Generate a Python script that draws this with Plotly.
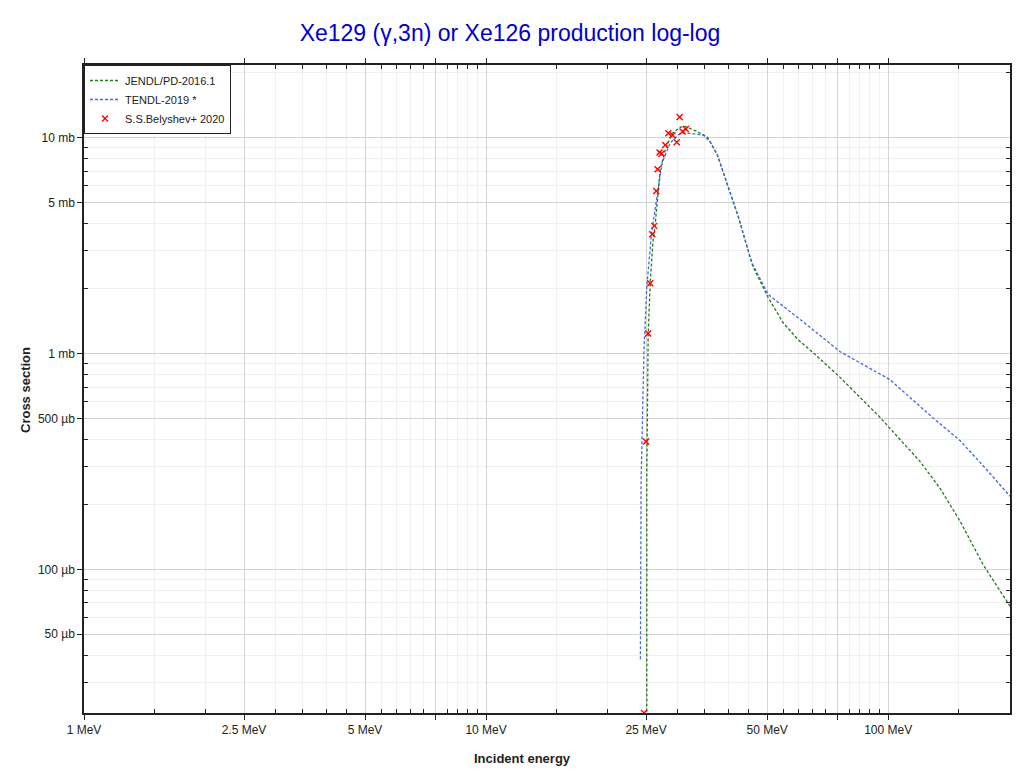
import plotly.graph_objects as go

# ---- data (energy in MeV, cross section in mb) ----
jendl_e = [25.1, 25.1, 25.3, 25.6, 26.0, 26.3, 27.1, 27.9, 29.0, 30.4, 31.3, 33.5, 35.5,
           37.6, 40.0, 42.4, 45.4, 46.1, 50.3, 54.8, 59.7, 65.1, 76.0, 95.5, 107, 120.1,
           134.7, 151, 172.3, 201]
jendl_xs = [1e-4, 0.261, 1.22, 2.13, 3.30, 3.87, 7.11, 8.80, 10.5, 11.2, 11.3, 10.7, 10.1,
            8.34, 5.93, 4.31, 2.78, 2.53, 1.82, 1.39, 1.16, 1.01, 0.774, 0.506, 0.40, 0.316,
            0.237, 0.167, 0.105, 0.0674]

tendl_e = [24.2, 24.3, 24.7, 25.1, 25.8, 27.4, 28.7, 30.4, 32.2, 34.7, 36.1, 37.6, 40.0,
           42.4, 45.4, 46.1, 50.3, 60.4, 76.0, 101, 129, 151, 172, 201]
tendl_xs = [0.0383, 0.261, 1.04, 2.04, 3.63, 7.66, 9.48, 10.5, 10.5, 10.3, 9.59, 8.34, 5.93,
            4.31, 2.78, 2.58, 1.88, 1.44, 1.02, 0.758, 0.505, 0.395, 0.303, 0.218]

exp_e = [24.7, 25.0, 25.3, 25.6, 25.9, 26.2, 26.5, 26.7, 27.0, 27.3, 27.9, 28.4, 29.1,
         29.8, 30.3, 30.8, 31.4]
exp_xs = [0.0216, 0.391, 1.24, 2.12, 3.58, 3.91, 5.68, 7.16, 8.55, 8.44, 9.28, 10.5, 10.3,
          9.55, 12.5, 10.7, 11.0]

x_tickvals = [1, 2.5, 5, 7.5, 10, 25, 50, 75, 100]
x_ticktext = ["1 MeV", "2.5 MeV", "5 MeV", "", "10 MeV", "25 MeV", "50 MeV", "", "100 MeV"]
x_minor = [1.5, 2, 3, 3.5, 4, 4.5, 5.5, 6, 6.5, 7, 8, 8.5, 9, 9.5,
           15, 20, 30, 35, 40, 45, 55, 60, 65, 70, 80, 85, 90, 95, 150]

y_tickvals = [0.05, 0.1, 0.5, 1, 5, 10]
y_ticktext = ["50 µb", "100 µb", "500 µb", "1 mb", "5 mb", "10 mb"]
y_minor = [0.03, 0.04, 0.06, 0.07, 0.08, 0.09, 0.2, 0.3, 0.4, 0.6, 0.7, 0.8, 0.9,
           2, 3, 4, 6, 7, 8, 9, 20]

FONT = "Liberation Sans, Arial, sans-serif"

fig = go.Figure()
fig.add_trace(go.Scatter(x=jendl_e, y=jendl_xs, mode="lines", name="JENDL/PD-2016.1",
                         line=dict(color="#1e7b1e", width=1.3, dash="3px,2px")))
fig.add_trace(go.Scatter(x=tendl_e, y=tendl_xs, mode="lines", name="TENDL-2019 *",
                         line=dict(color="#4169e1", width=1.3, dash="3px,2px")))
fig.add_trace(go.Scatter(x=exp_e, y=exp_xs, mode="markers", name="S.S.Belyshev+ 2020",
                         marker=dict(symbol="x-thin", size=6, color="red",
                                     line=dict(color="red", width=1.4))))

axis_common = dict(
    type="log", showline=True, linecolor="#222", linewidth=1.5, mirror="allticks",
    ticks="outside", ticklen=5, tickcolor="#222", tickmode="array",
    showgrid=True, gridcolor="#d3d3d3", gridwidth=1, zeroline=False, automargin=False,
    tickfont=dict(family=FONT, size=12, color="#222"),
)

fig.update_xaxes(**axis_common, range=[0, 2.303], tickvals=x_tickvals, ticktext=x_ticktext,
                 minor=dict(tickmode="array", tickvals=x_minor, ticks="inside", ticklen=4,
                            tickcolor="#222", showgrid=True, gridcolor="#f0f0f0"))
fig.update_yaxes(**axis_common, range=[-1.666, 1.338], tickvals=y_tickvals, ticktext=y_ticktext,
                 minor=dict(tickmode="array", tickvals=y_minor, ticks="inside", ticklen=4,
                            tickcolor="#222", showgrid=True, gridcolor="#f0f0f0"))

# the page body adds an 8 px offset, so the figure is sized/margined to compensate
fig.update_layout(
    width=1012, height=766,
    margin=dict(l=76, r=10, t=57, b=61, autoexpand=False),
    paper_bgcolor="white", plot_bgcolor="white",
    title=dict(text="Xe129 (γ,3n) or Xe126 production log-log", x=502 / 1012, xanchor="center",
               xref="container", y=0.967, yanchor="middle",
               font=dict(family=FONT, size=23, color="#0000cc")),
    showlegend=True,
    legend=dict(x=0, y=1, xanchor="left", yanchor="top", bgcolor="white",
                bordercolor="#222", borderwidth=1, tracegroupgap=0,
                font=dict(family=FONT, size=11, color="#222")),
    annotations=[
        dict(text="<b>Incident energy</b>", x=522, y=758, xref="paper", yref="paper",
             xanchor="center", yanchor="middle",
             showarrow=False, font=dict(family=FONT, size=13, color="#222")),
        dict(text="<b>Cross section</b>", x=25, y=390, xref="paper", yref="paper",
             xanchor="center", yanchor="middle", textangle=-90, showarrow=False,
             font=dict(family=FONT, size=13, color="#222")),
    ],
)
# convert page-pixel positions of axis titles to paper coordinates (plot area 84..1010, 65..713)
pw, ph = 926, 648
for a in fig.layout.annotations:
    a.x = (a.x - 84) / pw
    a.y = (713 - a.y) / ph

fig.write_html("out.html")
